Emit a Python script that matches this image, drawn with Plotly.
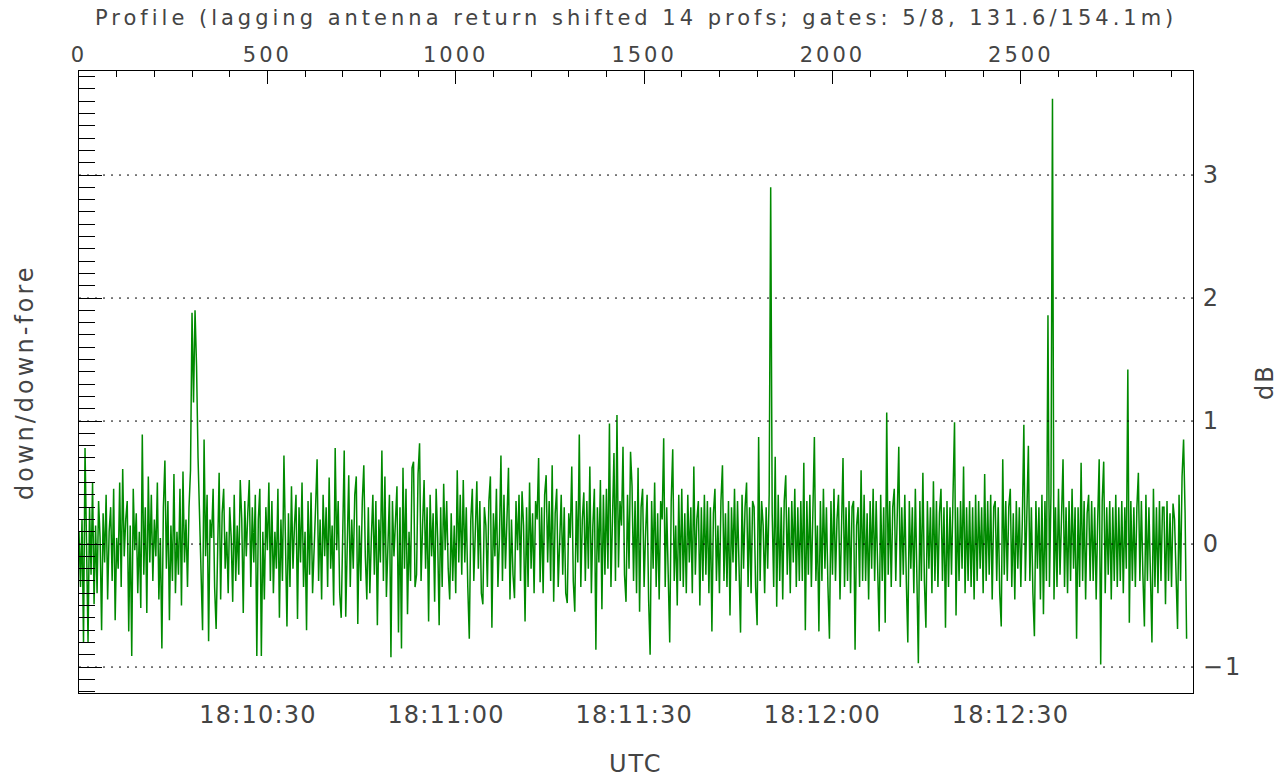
import numpy as np
import plotly.graph_objects as go

# ---------------- data ----------------
profile_step = 4  # one listed value every 4 profiles
ratio_db = [
    0.1, -0.35, 0.2, -0.8, 0.78, -0.1, -0.8, 0.3, -0.25, 0.5, -0.49, 0.15, -0.4, 0.35, 0.05, -0.7,
    0.25, -0.15, 0.4, -0.45, 0.1, 0.3, -0.3, 0.45, -0.62, 0.05, -0.2, 0.5, -0.35, 0.61, -0.1, 0.2,
    0.35, -0.71, 0.15, -0.91, 0.45, -0.05, 0.25, -0.4, 0.1, -0.52, 0.89, -0.25, 0.3, -0.56, 0.55, -0.15,
    0.4, -0.3, 0.2, -0.1, 0.5, -0.45, 0.05, -0.85, 0.3, 0.68, -0.2, 0.35, -0.62, 0.15, -0.3, 0.57,
    -0.4, 0.1, -0.25, 0.45, -0.5, 0.59, -0.15, 0.2, -0.35, 0.3, 0.6, 1.88, 1.15, 1.9, 1.45, 0.7,
    0.15, -0.3, -0.7, 0.85, -0.1, 0.4, -0.79, 0.2, 0.05, 0.45, -0.35, -0.69, 0.1, 0.58, -0.45, 0.25,
    0.45, -0.2, 0.1, -0.4, 0.3, 0.05, -0.47, 0.4, -0.3, 0.15, -0.25, 0.52, 0.2, -0.56, 0.35, -0.1,
    0.25, 0.52, -0.35, 0.3, -0.15, 0.4, -0.91, 0.2, 0.45, -0.91, 0.1, -0.45, 0.3, -0.05, 0.5, -0.3,
    0.35, -0.4, 0.1, -0.2, 0.45, -0.6, 0.2, -0.3, 0.72, 0.05, -0.67, 0.25, -0.35, 0.47, -0.2, 0.15,
    0.4, -0.61, 0.3, -0.15, 0.5, -0.35, 0.1, -0.7, 0.35, -0.25, 0.42, -0.4, 0.05, 0.3, 0.69, -0.3,
    0.2, -0.45, 0.4, -0.1, 0.3, -0.35, 0.54, -0.2, 0.15, -0.5, 0.78, -0.05, 0.35, -0.4, -0.6, 0.25,
    0.76, -0.59, 0.1, 0.56, -0.35, 0.2, -0.2, 0.4, 0.55, -0.65, 0.15, -0.3, 0.35, 0.64, -0.1, -0.45,
    0.3, -0.4, 0.05, 0.4, -0.25, 0.35, -0.66, 0.2, -0.15, 0.76, -0.3, 0.55, -0.43, 0.1, 0.4, -0.92,
    0.35, -0.1, 0.2, 0.47, -0.72, 0.3, -0.85, 0.62, -0.2, 0.45, -0.57, 0.1, -0.3, 0.62, 0.67, -0.35,
    -0.25, 0.57, 0.82, -0.3, 0.15, 0.52, -0.2, 0.3, -0.63, 0.4, -0.1, 0.25, -0.47, 0.45, 0.05, -0.66,
    0.3, -0.35, 0.49, -0.05, 0.35, -0.2, -0.45, 0.25, -0.3, 0.15, -0.4, 0.6, -0.15, 0.4, -0.25, 0.52,
    -0.15, 0.3, -0.35, -0.77, 0.2, 0.45, -0.3, 0.1, 0.51, -0.2, 0.35, -0.4, -0.49, 0.3, 0.15, -0.35,
    0.35, 0.55, -0.68, 0.25, -0.1, 0.45, -0.35, 0.05, 0.72, -0.3, 0.4, -0.2, 0.15, 0.62, -0.45, 0.2,
    -0.25, -0.44, 0.35, -0.05, 0.4, -0.3, 0.43, 0.15, -0.63, 0.3, -0.35, 0.5, -0.2, 0.25, -0.4, 0.35,
    0.2, 0.7, -0.31, 0.3, -0.4, 0.4, 0.56, -0.15, 0.35, -0.3, 0.64, -0.47, 0.25, 0.45, -0.35, 0.1,
    0.4, -0.25, 0.3, -0.4, -0.48, 0.25, 0.05, 0.63, -0.3, -0.55, 0.35, -0.15, 0.89, -0.35, 0.2, 0.42,
    -0.3, 0.35, -0.2, 0.63, -0.4, 0.15, 0.45, -0.86, 0.3, -0.15, 0.52, -0.53, 0.4, -0.25, 0.45, -0.2,
    0.98, -0.35, 0.25, 0.74, -0.3, 1.05, -0.19, 0.35, 0.15, 0.79, -0.25, -0.47, 0.4, -0.2, 0.75, 0.47,
    -0.3, 0.35, -0.4, 0.62, -0.55, 0.3, 0.45, -0.35, 0.1, 0.4, -0.45, -0.9, 0.35, -0.2, 0.5, -0.35,
    0.25, -0.45, 0.35, 0.2, 0.86, -0.35, 0.3, -0.2, -0.8, 0.35, 0.77, -0.3, 0.15, -0.5, 0.4, -0.3,
    0.45, -0.35, 0.25, -0.4, 0.4, -0.15, 0.3, -0.4, 0.63, -0.25, 0.2, 0.35, -0.5, 0.3, -0.3, 0.4,
    -0.25, 0.35, -0.4, 0.3, -0.71, 0.25, 0.45, -0.3, 0.15, -0.4, 0.35, 0.64, -0.3, 0.25, -0.35, 0.35,
    -0.58, 0.3, -0.15, 0.45, -0.3, 0.35, -0.25, -0.72, 0.4, -0.2, 0.3, 0.5, -0.35, 0.3, -0.4, 0.35,
    0.3, -0.35, -0.66, 0.87, -0.3, 0.35, 0.15, -0.4, 0.3, -0.2, 0.4, 2.9, 0.25, -0.35, 0.71, -0.51,
    0.4, -0.3, 0.3, -0.45, 0.35, 0.56, -0.25, 0.3, -0.4, 0.35, -0.15, 0.45, -0.35, 0.3, -0.3, 0.35,
    -0.3, 0.66, -0.7, 0.35, -0.25, 0.4, -0.35, 0.3, 0.87, -0.3, 0.15, -0.71, 0.35, -0.3, 0.45, -0.2,
    0.3, -0.35, -0.77, 0.35, -0.25, 0.45, -0.3, 0.2, 0.4, -0.45, 0.3, 0.7, -0.35, 0.3, -0.3, 0.35,
    -0.4, 0.3, 0.35, -0.86, 0.15, 0.3, -0.35, 0.6, -0.3, 0.4, -0.3, 0.25, -0.45, 0.35, -0.2, 0.45,
    -0.3, 0.35, -0.2, -0.71, 0.4, -0.3, 0.3, -0.64, 1.07, -0.25, 0.35, -0.35, 0.3, 0.45, -0.3, 0.25,
    0.79, -0.35, 0.3, -0.25, 0.4, -0.3, -0.8, 0.35, -0.2, 0.3, -0.4, 0.45, -0.3, -0.97, 0.35, -0.3,
    0.58, -0.3, -0.68, 0.35, -0.2, 0.3, -0.4, 0.51, -0.3, 0.35, -0.35, 0.25, 0.45, -0.3, 0.3, -0.68,
    0.35, -0.35, 0.3, -0.25, 0.4, 0.99, -0.58, 0.3, -0.3, 0.35, -0.2, 0.63, -0.4, 0.3, -0.3, 0.35,
    -0.35, 0.3, -0.45, 0.4, -0.3, 0.35, -0.2, 0.3, -0.4, 0.57, -0.3, 0.35, -0.25, 0.4, -0.45, 0.3,
    0.35, -0.3, 0.3, -0.4, -0.67, 0.69, -0.25, 0.35, -0.3, 0.3, 0.45, -0.35, 0.25, -0.45, 0.35, -0.2,
    0.3, -0.35, 0.2, 0.97, -0.3, 0.35, 0.8, -0.3, 0.3, -0.4, -0.75, 0.35, -0.2, 0.3, -0.45, 0.4,
    -0.57, 0.35, -0.3, 1.86, -0.35, 0.4, 3.62, -0.45, 0.3, -0.35, 0.45, -0.25, 0.3, 0.69, -0.35, 0.3,
    -0.4, 0.35, -0.3, 0.45, -0.2, 0.3, -0.77, 0.3, -0.35, 0.66, -0.3, 0.35, -0.45, 0.25, 0.4, -0.3,
    0.35, -0.3, 0.3, -0.45, 0.2, 0.69, -0.98, 0.35, 0.67, -0.4, 0.3, -0.25, 0.35, -0.45, 0.3, -0.3,
    0.4, -0.35, 0.3, -0.3, 0.35, -0.4, 0.3, -0.2, 1.42, -0.64, 0.35, -0.3, 0.3, -0.35, 0.3, 0.58,
    -0.3, 0.35, -0.25, -0.67, 0.4, -0.3, 0.3, -0.2, -0.8, 0.45, -0.35, 0.3, -0.4, 0.35, -0.3, 0.3,
    0.3, -0.49, 0.35, -0.3, 0.25, -0.35, 0.33, 0.2, -0.3, -0.69, 0.4, -0.3, 0.55, 0.85, 0.25, -0.77,
]
profiles = np.arange(len(ratio_db)) * profile_step

profile_range = [0, 2957]          # top axis (profile number)
profile_ticks = [0, 500, 1000, 1500, 2000, 2500]
profile_tick_labels = ["0", "500", "1000", "1500", "2000", "2500"]
time_range_s = [1.47, 179.1]       # bottom axis, seconds after 18:10:00
time_tick_s = [30, 60, 90, 120, 150]
time_tick_labels = ["18:10:30", "18:11:00", "18:11:30", "18:12:00", "18:12:30"]
y_range = [-1.211, 3.846]
db_ticks = [-1, 0, 1, 2, 3]
db_tick_labels = ["\u22121", "0", "1", "2", "3"]
grid_levels = [-1, 0, 1, 2, 3]

title_top = "Profile (lagging antenna return shifted 14 profs; gates: 5/8, 131.6/154.1m)"

FONT = "DejaVu Sans"
TXT = "#444444"
SMALL = 21   # title / top-axis text
BIG = 24     # bottom / side text


def spaced(s, px):
    return '<span style="letter-spacing:%spx">%s</span>' % (px, s)


fig = go.Figure()
fig.add_trace(go.Scatter(
    x=profiles, y=ratio_db, xaxis="x2", yaxis="y",
    mode="lines", line=dict(color="#008a00", width=1.5),
    showlegend=False, hoverinfo="skip",
))
# empty trace that carries the bottom / right axes
fig.add_trace(go.Scatter(x=[None], y=[None], xaxis="x", yaxis="y2", showlegend=False,
                         hoverinfo="skip"))

for g in grid_levels:
    fig.add_shape(type="line", xref="paper", yref="y", x0=0, x1=1, y0=g, y1=g,
                  line=dict(color="#000000", width=1, dash="2px,6px"), layer="above")

axis_common = dict(showgrid=False, zeroline=False, showline=True, linecolor="#000000",
                   linewidth=1, ticks="inside", tickcolor="#000000", tickwidth=1,
                   automargin=False)

fig.update_layout(
    width=1287, height=778,
    margin=dict(l=79, r=94, t=71, b=85),
    paper_bgcolor="white", plot_bgcolor="white",
    font=dict(family=FONT, size=BIG, color=TXT),
    xaxis=dict(range=time_range_s, tickvals=time_tick_s,
               ticktext=[spaced(t, 1.2) for t in time_tick_labels],
               ticklen=18, side="bottom", tickfont=dict(size=BIG),
               minor=dict(dtick=10, tick0=0, ticklen=9, ticks="inside", tickcolor="#000000"),
               **axis_common),
    xaxis2=dict(range=profile_range, overlaying="x", side="top", tickvals=profile_ticks,
                ticktext=[spaced(t, 3) for t in profile_tick_labels],
                ticklen=13, tickfont=dict(size=SMALL),
                minor=dict(dtick=100, tick0=0, ticklen=6, ticks="inside", tickcolor="#000000"),
                **axis_common),
    yaxis=dict(range=y_range, dtick=1, tick0=0, ticklen=23, showticklabels=False,
               minor=dict(dtick=0.1, tick0=0, ticklen=16, ticks="inside", tickcolor="#000000"),
               **axis_common),
    yaxis2=dict(range=y_range, overlaying="y", side="right", tickvals=db_ticks,
                ticktext=[spaced(t, 2) for t in db_tick_labels], ticklen=14,
                tickfont=dict(size=BIG), ticklabelstandoff=4,
                minor=dict(dtick=0.1, tick0=0, ticklen=9, ticks="inside", tickcolor="#000000"),
                **axis_common),
)

fig.add_annotation(text=spaced(title_top, 4), xref="paper", yref="paper", x=0.5, y=1.085,
                   xanchor="center", yanchor="middle", showarrow=False,
                   font=dict(family=FONT, size=SMALL, color=TXT))
fig.add_annotation(text=spaced("UTC", 2), xref="paper", yref="paper", x=0.5, y=-0.114,
                   xanchor="center", yanchor="middle", showarrow=False,
                   font=dict(family=FONT, size=BIG, color=TXT))
fig.add_annotation(text=spaced("down/down-fore", 3), xref="paper", yref="paper",
                   x=-0.0485, y=0.5, xanchor="center", yanchor="middle", showarrow=False,
                   textangle=-90, font=dict(family=FONT, size=BIG, color=TXT))
fig.add_annotation(text=spaced("dB", 2), xref="paper", yref="paper", x=1.0646, y=0.5,
                   xanchor="center", yanchor="middle", showarrow=False, textangle=-90,
                   font=dict(family=FONT, size=BIG, color=TXT))

# remove the browser's default 8px body margin so the figure fills the window exactly
fig.write_html("out.html",
               config={"displayModeBar": False},
               post_script="document.body.style.margin='0';document.body.style.overflow='hidden';")
